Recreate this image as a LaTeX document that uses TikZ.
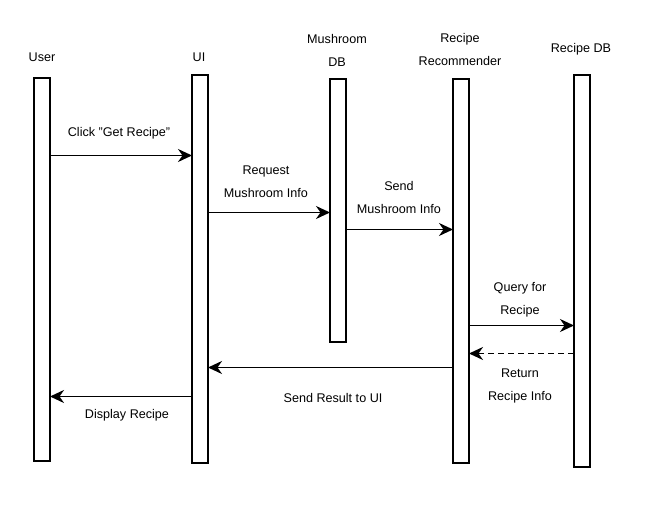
\documentclass[tikz,border=0pt]{standalone}
\usepackage{fontspec}
\setmainfont{Liberation Sans}
\usetikzlibrary{arrows.meta}
\begin{document}
\begin{tikzpicture}[x=1pt,y=-1pt,
  bar/.style={draw, line width=1.5pt, fill=white, inner sep=0pt, outer sep=0pt, minimum width=16pt, anchor=north west},
  lbl/.style={font=\fontsize{12.6}{23}\selectfont, align=center, inner sep=0pt},
  msg/.style={line width=1.6pt, -{Stealth[length=14pt,width=13pt,inset=4.5pt]}},
  ret/.style={msg, dash pattern=on 6pt off 4pt}]
\useasboundingbox (0,0) rectangle (646,526);
% lifeline bars
\node[bar, minimum height=383pt] (user) at (34,78) {};
\node[bar, minimum height=388pt] (ui) at (192,75) {};
\node[bar, minimum height=263pt] (mdb) at (330,79) {};
\node[bar, minimum height=384pt] (rr) at (453,79) {};
\node[bar, minimum height=392pt] (rdb) at (574,75) {};
% headers
\node[lbl] (tuser) at (42,57) {User};
\node[lbl] (tui) at (199,57) {UI};
\node[lbl] (tmdb) at (337,50.5) {Mushroom\\DB};
\node[lbl] (trr) at (460,49.5) {Recipe\\Recommender};
\node[lbl] (trdb) at (581,49) {Recipe DB};
% messages
\draw[msg] (user.east |- 0,155.5) -- (ui.west |- 0,155.5);
\node[lbl] (m1) at (119,133) {Click "Get Recipe"};
\draw[msg] (ui.east |- 0,212.5) -- (mdb.west |- 0,212.5);
\node[lbl] (m2) at (266,181.5) {Request\\Mushroom Info};
\draw[msg] (mdb.east |- 0,229.5) -- (rr.west |- 0,229.5);
\node[lbl] (m3) at (399,197.5) {Send\\Mushroom Info};
\draw[msg] (rr.east |- 0,325.5) -- (rdb.west |- 0,325.5);
\node[lbl] (m4) at (520,300) {Query for\\Recipe};
\draw[ret] (rdb.west |- 0,353.5) -- (rr.east |- 0,353.5);
\node[lbl] (m5) at (520,385.5) {Return\\Recipe Info};
\draw[msg] (rr.west |- 0,367.5) -- (ui.east |- 0,367.5);
\node[lbl] (m6) at (333,398) {Send Result to UI};
\draw[msg] (ui.west |- 0,396.5) -- (user.east |- 0,396.5);
\node[lbl] (m7) at (127,415) {Display Recipe};
\end{tikzpicture}
\end{document}
